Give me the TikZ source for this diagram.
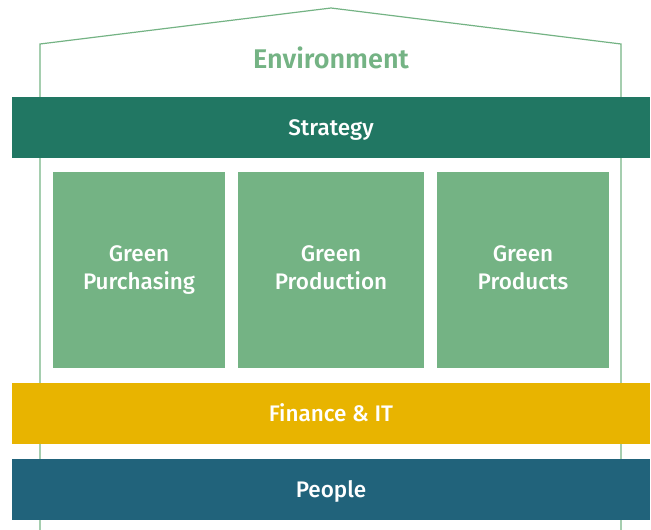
\documentclass[tikz,border=0pt]{standalone}
\usepackage{fontspec}
\setmainfont{Fira Sans}
\newfontfamily\firamedium{Fira Sans Medium}
\newfontfamily\firasemi{Fira Sans SemiBold}
\usepackage{tikz}
\usetikzlibrary{positioning}
\definecolor{stratgreen}{HTML}{217763}
\definecolor{leafgreen}{HTML}{74B384}
\definecolor{financegold}{HTML}{E8B400}
\definecolor{peopleblue}{HTML}{21637B}
\tikzstyle{bar} = [rectangle, minimum width=638pt, minimum height=61pt,
    inner sep=0pt, text height=16pt, text depth=1pt, text=white,
    font=\firamedium\fontsize{22.5}{26}\selectfont]
\tikzstyle{pillar} = [rectangle, fill=leafgreen, minimum height=196pt,
    inner sep=0pt, text=white, align=center,
    font=\firamedium\fontsize{22.5}{28}\selectfont]

\begin{document}
\begin{tikzpicture}[x=1pt, y=-1pt]
  \useasboundingbox (0,0) rectangle (651,530);
  % House outline
  \draw [leafgreen, line width=1.2pt] (40,530) -- (40,44) -- (331,8)
    -- (621,44) -- (621,530);
  \node [text=leafgreen, font=\firasemi\fontsize{27}{30}\selectfont] (env)
    at (331,58) {Environment};
  % Place nodes
  \node [bar, fill=stratgreen] (strategy) at (331,127.5) {Strategy};
  \node [pillar, minimum width=172pt] (purchasing) at (139,270)
    {Green\\Purchasing\vphantom{g}};
  \node [pillar, minimum width=186pt] (production) at (331,270)
    {Green\\Production\vphantom{g}};
  \node [pillar, minimum width=172pt] (products) at (523,270)
    {Green\\Products\vphantom{g}};
  \node [bar, fill=financegold] (finance) at (331,413.5) {Finance \& IT};
  \node [bar, fill=peopleblue] (people) at (331,489.5) {People};
\end{tikzpicture}
\end{document}
